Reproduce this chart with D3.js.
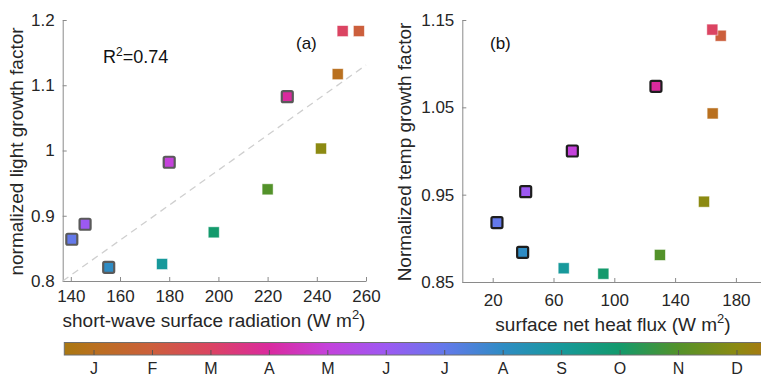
<!DOCTYPE html>
<html>
<head>
<meta charset="utf-8">
<script src="https://cdn.jsdelivr.net/npm/d3@7"></script>
<style>
  html, body { margin: 0; padding: 0; background: #fff; }
  svg { display: block; font-family: "Liberation Sans", Arial, Helvetica, sans-serif; }
</style>
</head>
<body>
<svg id="chart" width="761" height="376"></svg>
<script>
// ---------------- data ----------------
const months = ["J", "F", "M", "A", "M", "J", "J", "A", "S", "O", "N", "D"];
const swRad = [248.5, 257.1, 250.5, 228.0, 180.0, 145.8, 140.4, 155.4, 177.1, 198.1, 220.0, 241.7];
const lightFactor = [1.117, 1.183, 1.183, 1.0825, 0.982, 0.887, 0.864, 0.821, 0.826, 0.8746, 0.9405, 1.003];
const heatFlux = [164.7, 170.0, 164.5, 127.4, 72.4, 41.7, 22.8, 39.7, 66.7, 92.8, 130.0, 159.0];
const tempFactor = [1.043, 1.132, 1.139, 1.074, 1.000, 0.9534, 0.918, 0.884, 0.8657, 0.8595, 0.881, 0.942];
const highlighted = [false, false, false, true, true, true, true, true, false, false, false, false];
const fitX = [136.7, 260];
const fitY = [0.8, 1.131];
const rSquared = "0.74";
const xTicksA = [140, 160, 180, 200, 220, 240, 260];
const yTicksA = [0.8, 0.9, 1, 1.1, 1.2];
const xTicksB = [20, 60, 100, 140, 180];
const yTicksB = [0.85, 0.95, 1.05, 1.15];
// cyclic colormap stops (phase-like), positions in month units 0..12
const cmapPos = [0, 0.5, 1.5, 2.5, 3.5, 4.5, 5.5, 6.5, 7.5, 8.5, 9.5, 10.5, 11.5, 12];
const cmapCol = ["#a97811", "#b9701f", "#cc5f3c", "#db4462", "#da2a9e", "#c442db", "#9d59f2",
                 "#6479ea", "#2f8cc4", "#17999b", "#139a6c", "#53922a", "#8c8a12", "#a97811"];

// ---------------- setup ----------------
const svg = d3.select("#chart");
const color = d3.scaleLinear().domain(cmapPos).range(cmapCol).interpolate(d3.interpolateRgb);
const axisColor = "#8a8a8a";
const textColor = "#262626";
const tickFont = 17;
const labelFont = 19;
const fmt = d3.format("~g");

const panels = [
  { x: swRad, y: lightFactor, xd: [136.7, 260], yd: [0.8, 1.2], xr: [62.7, 366], yr: [281, 20],
    xt: xTicksA, yt: yTicksA, edge: "#5a5a5a", xlabel: "short-wave surface radiation (W m", xlabY: 327, xlabX: 214,
    ylabel: "normalized light growth factor", ylabX: 23, tag: "(a)", tagX: 296, xtickY: 9 },
  { x: heatFlux, y: tempFactor, xd: [0, 200], yd: [0.85, 1.15], xr: [462.3, 766.3], yr: [282, 20],
    xt: xTicksB, yt: yTicksB, edge: "#1e1e1e", xlabel: "surface net heat flux (W m", xlabY: 331, xlabX: 613,
    ylabel: "Normalized temp growth factor", ylabX: 411, tag: "(b)", tagX: 490, xtickY: 12 }
];

panels.forEach((p, pi) => {
  const xs = d3.scaleLinear().domain(p.xd).range(p.xr);
  const ys = d3.scaleLinear().domain(p.yd).range(p.yr);
  const g = svg.append("g");

  // axes
  const xa = g.append("g").attr("transform", `translate(0,${p.yr[0]})`)
    .call(d3.axisBottom(xs).tickValues(p.xt).tickFormat(fmt).tickSizeInner(-4).tickSizeOuter(0).tickPadding(p.xtickY));
  const ya = g.append("g").attr("transform", `translate(${p.xr[0]},0)`)
    .call(d3.axisLeft(ys).tickValues(p.yt).tickFormat(fmt).tickSizeInner(-4).tickSizeOuter(0).tickPadding(8));
  [xa, ya].forEach(a => {
    a.select(".domain").attr("stroke", axisColor).attr("stroke-width", 1);
    a.selectAll(".tick line").attr("stroke", axisColor);
    a.selectAll(".tick text").attr("fill", textColor).attr("font-size", tickFont)
      .attr("font-family", "Liberation Sans, Arial, sans-serif");
  });

  // regression line for panel a
  if (pi === 0) {
    g.append("line")
      .attr("x1", xs(fitX[0])).attr("y1", ys(fitY[0]))
      .attr("x2", xs(fitX[1])).attr("y2", ys(fitY[1]))
      .attr("stroke", "#cfcfcf").attr("stroke-width", 1.3).attr("stroke-dasharray", "7,5");
    const rt = g.append("text").attr("x", 103).attr("y", 63).attr("fill", "#111").attr("font-size", 18);
    rt.append("tspan").text("R");
    rt.append("tspan").text("2").attr("font-size", 12).attr("dy", -7);
    rt.append("tspan").text("=" + rSquared).attr("dy", 7);
  }

  // markers
  const idx = d3.range(months.length);
  g.selectAll("rect.pt").data(idx).join("rect")
    .attr("class", "pt")
    .attr("x", i => xs(p.x[i]) - 5.5)
    .attr("y", i => ys(p.y[i]) - 5.5)
    .attr("width", 11).attr("height", 11)
    .attr("fill", i => color(i + 0.5))
    .attr("stroke", i => highlighted[i] ? p.edge : "rgba(255,255,255,0.6)")
    .attr("stroke-width", i => highlighted[i] ? 2.2 : 0.8)
    .attr("rx", i => highlighted[i] ? 1.5 : 0);

  // panel tag
  g.append("text").attr("x", p.tagX).attr("y", 49).attr("font-size", 17).attr("fill", "#111").text(p.tag);

  // axis labels
  const xl = g.append("text").attr("x", p.xlabX)
    .attr("y", p.xlabY).attr("text-anchor", "middle").attr("font-size", labelFont).attr("fill", textColor);
  xl.append("tspan").text(p.xlabel);
  xl.append("tspan").text("2").attr("font-size", 13).attr("dy", -8);
  xl.append("tspan").text(")").attr("dy", 8);

  g.append("text")
    .attr("transform", `translate(${p.ylabX},${(p.yr[0] + p.yr[1]) / 2 + 1}) rotate(-90)`)
    .attr("text-anchor", "middle").attr("font-size", labelFont).attr("fill", textColor)
    .text(p.ylabel);
});

// ---------------- colorbar ----------------
const cbX = d3.scaleLinear().domain([0, 12]).range([64.3, 765.7]);
const cbTop = 342.5, cbH = 12.5;
const defs = svg.append("defs");
const grad = defs.append("linearGradient").attr("id", "cbgrad")
  .attr("x1", "0%").attr("x2", "100%").attr("y1", "0%").attr("y2", "0%");
grad.selectAll("stop").data(cmapPos).join("stop")
  .attr("offset", d => (d / 12 * 100) + "%")
  .attr("stop-color", (d, i) => cmapCol[i]);
svg.append("rect").attr("x", cbX(0)).attr("y", cbTop).attr("width", cbX(12) - cbX(0)).attr("height", cbH)
  .attr("fill", "url(#cbgrad)").attr("stroke", "#6e6e6e").attr("stroke-width", 1);
const cbAxis = svg.append("g").attr("transform", `translate(0,${cbTop + cbH})`)
  .call(d3.axisBottom(cbX).tickValues(d3.range(12).map(i => i + 0.5))
    .tickFormat((d, i) => months[i]).tickSizeInner(-5).tickSizeOuter(0).tickPadding(8));
cbAxis.select(".domain").remove();
cbAxis.selectAll(".tick line").attr("stroke", "#555");
cbAxis.selectAll(".tick text").attr("font-size", 16).attr("fill", textColor)
  .attr("font-family", "Liberation Sans, Arial, sans-serif");
</script>
</body>
</html>
